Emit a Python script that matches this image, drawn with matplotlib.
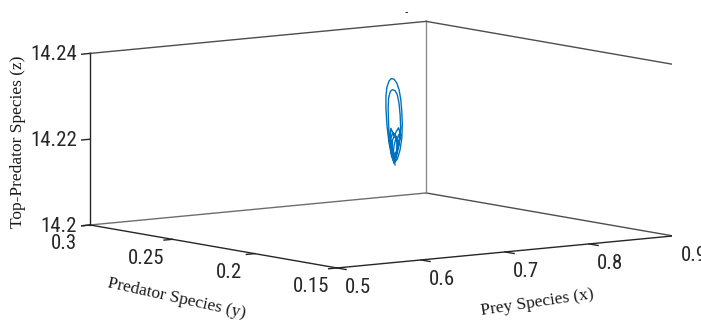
import numpy as np
import matplotlib
matplotlib.use('Agg')
import matplotlib.pyplot as plt
from mpl_toolkits.mplot3d import proj3d

# trajectory
prey = [0.7063, 0.7027, 0.6998, 0.6974, 0.6962, 0.6962, 0.6974, 0.6998, 0.7021, 0.7051,
        0.7081, 0.7105, 0.7123, 0.7135, 0.7141, 0.7135, 0.7117, 0.7087, 0.7051, 0.7027,
        0.7004, 0.6992, 0.6986, 0.6992, 0.7010, 0.7033, 0.7063, 0.7087, 0.7105, 0.7117,
        0.7123, 0.7111, 0.7087, 0.7063, 0.7027, 0.7010, 0.7016, 0.7051, 0.7099, 0.7123,
        0.7099, 0.7063, 0.7027, 0.7016, 0.7039, 0.7075, 0.7111, 0.7105, 0.7075, 0.7051,
        0.7027, 0.7033, 0.7063, 0.7093, 0.7081, 0.7063, 0.7039, 0.7051, 0.7075, 0.7087,
        0.7063]
predator = [0.2200, 0.2203, 0.2204, 0.2204, 0.2204, 0.2204, 0.2204, 0.2203, 0.2202, 0.2200,
            0.2198, 0.2197, 0.2196, 0.2196, 0.2196, 0.2196, 0.2197, 0.2198, 0.2200, 0.2202,
            0.2203, 0.2203, 0.2203, 0.2203, 0.2202, 0.2201, 0.2200, 0.2199, 0.2198, 0.2197,
            0.2197, 0.2197, 0.2198, 0.2200, 0.2201, 0.2202, 0.2202, 0.2200, 0.2198, 0.2197,
            0.2198, 0.2200, 0.2201, 0.2202, 0.2201, 0.2199, 0.2198, 0.2198, 0.2199, 0.2200,
            0.2201, 0.2201, 0.2200, 0.2199, 0.2199, 0.2200, 0.2201, 0.2200, 0.2199, 0.2199,
            0.2200]
top = [14.2155, 14.2176, 14.2208, 14.2248, 14.2287, 14.2318, 14.2338, 14.2352, 14.2357, 14.2355,
       14.2345, 14.2329, 14.2306, 14.2278, 14.2248, 14.2217, 14.2190, 14.2169, 14.2159, 14.2178,
       14.2208, 14.2248, 14.2287, 14.2313, 14.2327, 14.2331, 14.2328, 14.2318, 14.2299, 14.2271,
       14.2241, 14.2213, 14.2190, 14.2171, 14.2190, 14.2217, 14.2241, 14.2224, 14.2241, 14.2224,
       14.2199, 14.2178, 14.2194, 14.2217, 14.2231, 14.2213, 14.2227, 14.2201, 14.2173, 14.2166,
       14.2185, 14.2213, 14.2227, 14.2208, 14.2185, 14.2162, 14.2176, 14.2201, 14.2220, 14.2194,
       14.2171]

x_ticks = [0.5, 0.6, 0.7, 0.8, 0.9]
y_ticks = [0.15, 0.2, 0.25, 0.3]
z_ticks = [14.2, 14.22, 14.24]
x_labels = ['0.5', '0.6', '0.7', '0.8', '0.9']
y_labels = ['0.15', '0.2', '0.25', '0.3']
z_labels = ['14.2', '14.22', '14.24']

x0, x1 = 0.5, 0.9
y0, y1 = 0.15, 0.3
z0, z1 = 14.2, 14.24

tick_font = dict(family=['Liberation Sans Narrow', 'Roboto Condensed', 'Roboto', 'DejaVu Sans'],
                 size=15, color='#262626')
label_font = dict(family=['Liberation Serif', 'DejaVu Serif'], size=12.5, color='#1a1a1a')

fig = plt.figure(figsize=(7.01, 3.2), dpi=100)
ax = fig.add_axes([0, 0, 1, 1], projection='3d', proj_type='ortho', computed_zorder=False)
ax.view_init(elev=7.4, azim=-126.5)
ax.set_box_aspect((418, 415, 173))
ax.set_xlim(x0, x1)
ax.set_ylim(y0, y1)
ax.set_zlim(z0, z1)
ax.set_axis_off()

# back box edges
edge = '#4d4d4d'
ax.plot([x0, x1], [y1, y1], [z0, z0], color='#6e6e6e', lw=1)
ax.plot([x1, x1], [y1, y0], [z0, z0], color=edge, lw=1)
ax.plot([x1, x1], [y1, y1], [z0, z1], color='#8c8c8c', lw=1)
ax.plot([x0, x1], [y1, y1], [z1, z1], color=edge, lw=1)
ax.plot([x1, x1], [y1, y0], [z1, z1], color=edge, lw=1)
ax.plot([x1, x1], [y0, y0], [z0, z1], color=edge, lw=1)
# axis lines
ax.plot([x0, x0], [y0, y1], [z0, z0], color='#262626', lw=1)
ax.plot([x0, x1], [y0, y0], [z0, z0], color='#262626', lw=1)
ax.plot([x0, x0], [y1, y1], [z0, z1], color='#262626', lw=1)

# tick marks
for t in x_ticks:
    ax.plot([t, t], [y0, y0 - 0.0055], [z0, z0], color='#262626', lw=1)
for t in y_ticks:
    ax.plot([x0, x0 - 0.01], [t, t], [z0, z0], color='#262626', lw=1)
for t in z_ticks:
    ax.plot([x0, x0 - 0.01], [y1, y1], [t, t], color='#262626', lw=1)

ax.plot(prey, predator, top, color='#0072BD', lw=1.0)

# fit the projected box onto the layout of the original figure
fig.canvas.draw()
corners = np.array([[x0, y1, z0], [x1, y0, z0], [x1, y1, z1],
                    [x0, y0, z0], [x0, y1, z1], [x1, y0, z1]])
target = np.array([[90, 95], [673, 83.5], [426, 298.5],
                   [337, 52], [90.5, 267], [673, 256]])
px, py, _ = proj3d.proj_transform(corners[:, 0], corners[:, 1], corners[:, 2], ax.M)
pts = ax.transData.transform(np.column_stack([px, py]))
l, b, w, h = ax.bbox.bounds
u = (pts[:, 0] - l) / w
v = (pts[:, 1] - b) / h
n = len(u)
A = np.zeros((2 * n, 3))
A[:n, 0] = u
A[:n, 1] = 1
A[n:, 0] = v
A[n:, 2] = 1
rhs = np.concatenate([target[:, 0], target[:, 1]])
S, L, B = np.linalg.lstsq(A, rhs, rcond=None)[0]
ax.set_position([L / 701, B / 320, S / 701, S / 320])


def label_at(x, y, z, s, **kw):
    # place a flat text at the projected 3D point, following the axes transform
    qx, qy, _ = proj3d.proj_transform(np.array([x]), np.array([y]), np.array([z]), ax.M)
    fig.text(qx[0], qy[0], s, transform=ax.transData, **kw)


for t, s in zip(x_ticks, x_labels):
    label_at(t, y0 - 0.0128, z0 - 0.0038, s, ha='center', va='center', **tick_font)
for t, s in zip(y_ticks, y_labels):
    label_at(x0 - 0.031, t, z0 - 0.0038, s, ha='center', va='center', **tick_font)
for t, s in zip(z_ticks, z_labels):
    label_at(x0 - 0.0155, y1, t, s, ha='right', va='center', **tick_font)

fig.text(18 / 701, 1 - 142 / 320, 'Top-Predator Species (z)', rotation=90,
         ha='center', va='center', **label_font)
fig.text(177 / 701, 1 - 298 / 320, 'Predator Species (y)', rotation=-12.5,
         ha='center', va='center', rotation_mode='anchor', **label_font)
fig.text(537 / 701, 1 - 303 / 320, 'Prey Species (x)', rotation=8.5,
         ha='center', va='center', rotation_mode='anchor', **label_font)
fig.text(406 / 701, 1 - 12 / 320, '-', ha='center', va='center', fontsize=7)

fig.savefig('out.png', dpi=100)
